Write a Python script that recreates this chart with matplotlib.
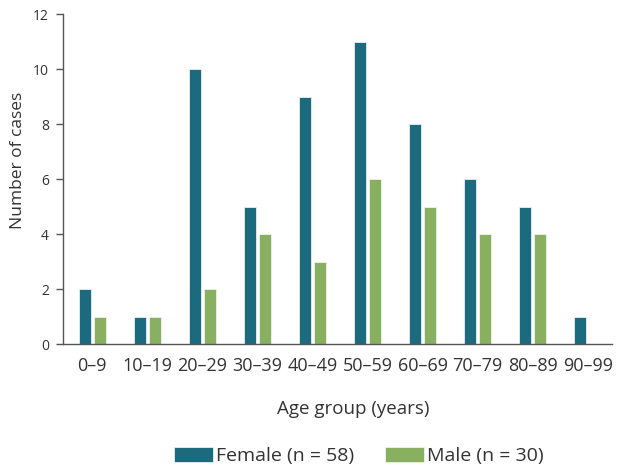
import matplotlib
matplotlib.use("Agg")
import matplotlib.pyplot as plt
import numpy as np

plt.rcParams['font.family'] = ['Open Sans', 'DejaVu Sans']

age_groups = ["0–9", "10–19", "20–29", "30–39", "40–49", "50–59",
              "60–69", "70–79", "80–89", "90–99"]
female = [2, 1, 10, 5, 9, 11, 8, 6, 5, 1]
male = [1, 1, 2, 4, 3, 6, 5, 4, 4, 0]
yticks = [0, 2, 4, 6, 8, 10, 12]

c_f = "#1b6a7e"
c_m = "#88b060"
txt = "#333333"

W, H = 618, 469
fig = plt.figure(figsize=(W / 100, H / 100), dpi=100)
ax = fig.add_axes([63 / W, 1 - 344 / H, (612 - 63) / W, (344 - 14) / H])

x = np.arange(len(age_groups))
w = 0.22
off = 0.137
ax.bar(x - off, female, width=w, color=c_f, edgecolor="#e8f0f2", linewidth=0.6,
       label="Female (n = 58)")
mx = [xi + off for xi, v in zip(x, male) if v > 0]
mv = [v for v in male if v > 0]
ax.bar(mx, mv, width=w, color=c_m, edgecolor="#eef4e8", linewidth=0.6,
       label="Male (n = 30)")

ax.set_xlim(-0.53, 9.44)
ax.set_ylim(0, 12)
ax.set_yticks(yticks)
ax.set_xticks(x)
ax.set_xticklabels(age_groups)
for s in ["top", "right"]:
    ax.spines[s].set_visible(False)
for s in ["left", "bottom"]:
    ax.spines[s].set_color("#555555")
    ax.spines[s].set_linewidth(1.0)
ax.tick_params(axis="y", length=5, width=1, color="#555555", labelsize=10,
               labelcolor=txt, pad=5)
ax.tick_params(axis="x", length=0, labelsize=13, labelcolor=txt, pad=9)

fig.text(18 / W, 1 - 160 / H, "Number of cases", rotation=90, fontsize=12.5,
         color=txt, ha="center", va="center")
fig.text(353 / W, 1 - 409 / H, "Age group (years)", fontsize=13.5,
         color=txt, ha="center", va="center")

leg = fig.legend(loc="center", ncol=2, frameon=False, fontsize=14,
                 bbox_to_anchor=(359 / W, 13 / H), handlelength=2.0,
                 handleheight=0.8, columnspacing=1.6, handletextpad=0.15)
for t in leg.get_texts():
    t.set_color(txt)

fig.savefig("out.png", dpi=100)
